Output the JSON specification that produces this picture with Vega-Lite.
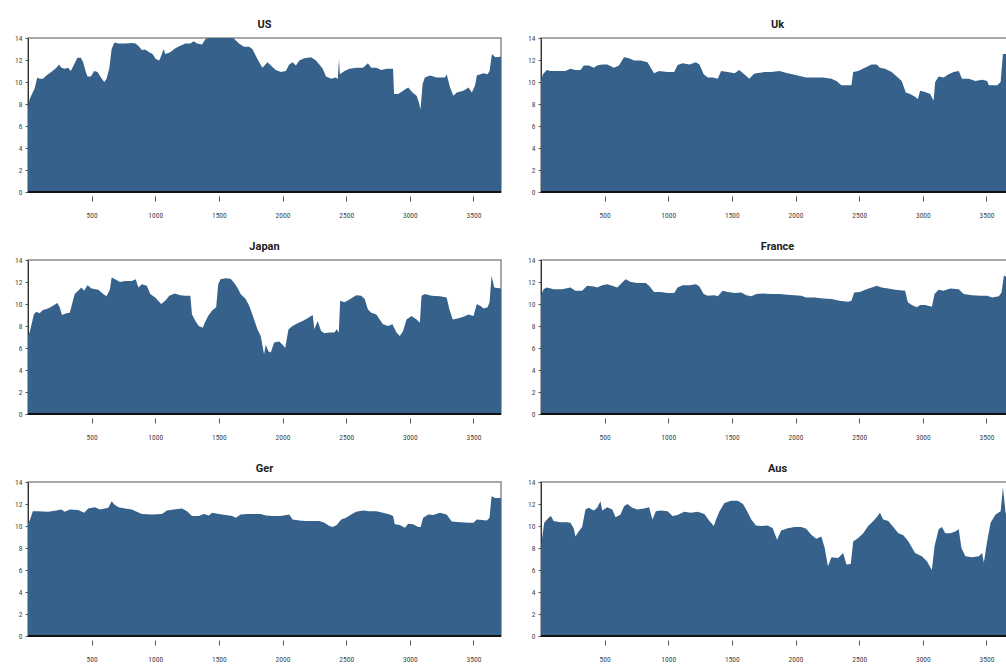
{
"$schema": "https://vega.github.io/schema/vega-lite/v6.json",
"background": "white",
"padding": {"left": 13, "top": 18, "right": 0, "bottom": 0},
"datasets": {
"series": [
{"country":"US","t":1,"value":7.6},{"country":"US","t":13,"value":8.4},{"country":"US","t":26,"value":8.75},{"country":"US","t":53,"value":9.4},{"country":"US","t":74,"value":10.4},{"country":"US","t":92,"value":10.3},{"country":"US","t":118,"value":10.3},{"country":"US","t":145,"value":10.6},{"country":"US","t":184,"value":10.9},{"country":"US","t":224,"value":11.3},{"country":"US","t":245,"value":11.6},{"country":"US","t":263,"value":11.3},{"country":"US","t":289,"value":11.2},{"country":"US","t":316,"value":11.3},{"country":"US","t":337,"value":11.0},{"country":"US","t":363,"value":11.6},{"country":"US","t":389,"value":12.2},{"country":"US","t":416,"value":12.2},{"country":"US","t":434,"value":11.8},{"country":"US","t":453,"value":11.0},{"country":"US","t":468,"value":10.5},{"country":"US","t":495,"value":10.5},{"country":"US","t":521,"value":11.0},{"country":"US","t":547,"value":10.9},{"country":"US","t":574,"value":10.4},{"country":"US","t":600,"value":10.0},{"country":"US","t":618,"value":10.3},{"country":"US","t":639,"value":11.2},{"country":"US","t":658,"value":13.0},{"country":"US","t":679,"value":13.6},{"country":"US","t":711,"value":13.5},{"country":"US","t":763,"value":13.5},{"country":"US","t":816,"value":13.55},{"country":"US","t":847,"value":13.5},{"country":"US","t":874,"value":13.2},{"country":"US","t":895,"value":12.9},{"country":"US","t":921,"value":12.95},{"country":"US","t":953,"value":12.7},{"country":"US","t":979,"value":12.55},{"country":"US","t":1005,"value":12.1},{"country":"US","t":1032,"value":11.95},{"country":"US","t":1053,"value":12.55},{"country":"US","t":1066,"value":13.0},{"country":"US","t":1079,"value":12.55},{"country":"US","t":1118,"value":12.7},{"country":"US","t":1158,"value":13.07},{"country":"US","t":1197,"value":13.3},{"country":"US","t":1237,"value":13.5},{"country":"US","t":1276,"value":13.5},{"country":"US","t":1303,"value":13.7},{"country":"US","t":1329,"value":13.5},{"country":"US","t":1368,"value":13.4},{"country":"US","t":1395,"value":13.9},{"country":"US","t":1434,"value":14.1},{"country":"US","t":1474,"value":14.2},{"country":"US","t":1540,"value":14.2},{"country":"US","t":1605,"value":14.1},{"country":"US","t":1632,"value":13.8},{"country":"US","t":1658,"value":13.5},{"country":"US","t":1697,"value":13.2},{"country":"US","t":1737,"value":13.2},{"country":"US","t":1763,"value":13.0},{"country":"US","t":1803,"value":12.1},{"country":"US","t":1842,"value":11.3},{"country":"US","t":1882,"value":11.8},{"country":"US","t":1908,"value":11.5},{"country":"US","t":1947,"value":11.1},{"country":"US","t":1987,"value":10.9},{"country":"US","t":2026,"value":11.0},{"country":"US","t":2053,"value":11.6},{"country":"US","t":2079,"value":11.8},{"country":"US","t":2105,"value":11.5},{"country":"US","t":2132,"value":11.95},{"country":"US","t":2171,"value":12.15},{"country":"US","t":2224,"value":12.25},{"country":"US","t":2263,"value":11.95},{"country":"US","t":2289,"value":11.6},{"country":"US","t":2316,"value":11.2},{"country":"US","t":2342,"value":10.5},{"country":"US","t":2382,"value":10.3},{"country":"US","t":2416,"value":10.4},{"country":"US","t":2434,"value":10.3},{"country":"US","t":2444,"value":12.1},{"country":"US","t":2450,"value":10.7},{"country":"US","t":2487,"value":11.0},{"country":"US","t":2526,"value":11.2},{"country":"US","t":2579,"value":11.3},{"country":"US","t":2632,"value":11.3},{"country":"US","t":2671,"value":11.7},{"country":"US","t":2697,"value":11.3},{"country":"US","t":2737,"value":11.3},{"country":"US","t":2776,"value":11.1},{"country":"US","t":2816,"value":11.2},{"country":"US","t":2868,"value":11.2},{"country":"US","t":2876,"value":8.9},{"country":"US","t":2908,"value":8.9},{"country":"US","t":2947,"value":9.2},{"country":"US","t":2987,"value":9.5},{"country":"US","t":3021,"value":9.05},{"country":"US","t":3053,"value":8.75},{"country":"US","t":3071,"value":8.15},{"country":"US","t":3084,"value":7.5},{"country":"US","t":3100,"value":9.8},{"country":"US","t":3118,"value":10.4},{"country":"US","t":3158,"value":10.6},{"country":"US","t":3211,"value":10.4},{"country":"US","t":3276,"value":10.4},{"country":"US","t":3289,"value":10.7},{"country":"US","t":3316,"value":9.5},{"country":"US","t":3342,"value":8.75},{"country":"US","t":3368,"value":9.05},{"country":"US","t":3421,"value":9.2},{"country":"US","t":3461,"value":9.5},{"country":"US","t":3487,"value":9.05},{"country":"US","t":3513,"value":9.7},{"country":"US","t":3526,"value":10.6},{"country":"US","t":3579,"value":10.8},{"country":"US","t":3611,"value":10.7},{"country":"US","t":3626,"value":11.0},{"country":"US","t":3645,"value":12.55},{"country":"US","t":3671,"value":12.25},{"country":"US","t":3716,"value":12.3},
{"country":"Uk","t":1,"value":10.1},{"country":"Uk","t":16,"value":10.7},{"country":"Uk","t":47,"value":11.1},{"country":"Uk","t":74,"value":11.0},{"country":"Uk","t":126,"value":11.0},{"country":"Uk","t":192,"value":11.0},{"country":"Uk","t":232,"value":11.2},{"country":"Uk","t":271,"value":11.1},{"country":"Uk","t":311,"value":11.1},{"country":"Uk","t":337,"value":11.5},{"country":"Uk","t":376,"value":11.5},{"country":"Uk","t":416,"value":11.3},{"country":"Uk","t":442,"value":11.5},{"country":"Uk","t":482,"value":11.6},{"country":"Uk","t":521,"value":11.6},{"country":"Uk","t":574,"value":11.3},{"country":"Uk","t":613,"value":11.5},{"country":"Uk","t":653,"value":12.25},{"country":"Uk","t":692,"value":12.15},{"country":"Uk","t":732,"value":11.95},{"country":"Uk","t":784,"value":11.95},{"country":"Uk","t":837,"value":11.8},{"country":"Uk","t":863,"value":11.3},{"country":"Uk","t":889,"value":10.8},{"country":"Uk","t":929,"value":11.0},{"country":"Uk","t":995,"value":10.9},{"country":"Uk","t":1047,"value":10.9},{"country":"Uk","t":1074,"value":11.55},{"country":"Uk","t":1113,"value":11.7},{"country":"Uk","t":1166,"value":11.6},{"country":"Uk","t":1218,"value":11.8},{"country":"Uk","t":1245,"value":11.6},{"country":"Uk","t":1279,"value":10.7},{"country":"Uk","t":1311,"value":10.4},{"country":"Uk","t":1350,"value":10.4},{"country":"Uk","t":1389,"value":10.3},{"country":"Uk","t":1416,"value":11.0},{"country":"Uk","t":1468,"value":10.9},{"country":"Uk","t":1521,"value":10.8},{"country":"Uk","t":1558,"value":11.1},{"country":"Uk","t":1597,"value":10.7},{"country":"Uk","t":1637,"value":10.3},{"country":"Uk","t":1670,"value":10.7},{"country":"Uk","t":1689,"value":10.8},{"country":"Uk","t":1755,"value":10.9},{"country":"Uk","t":1808,"value":10.9},{"country":"Uk","t":1874,"value":11.0},{"country":"Uk","t":1939,"value":10.8},{"country":"Uk","t":2018,"value":10.6},{"country":"Uk","t":2084,"value":10.4},{"country":"Uk","t":2150,"value":10.4},{"country":"Uk","t":2216,"value":10.4},{"country":"Uk","t":2282,"value":10.3},{"country":"Uk","t":2321,"value":10.1},{"country":"Uk","t":2361,"value":9.7},{"country":"Uk","t":2413,"value":9.7},{"country":"Uk","t":2439,"value":9.7},{"country":"Uk","t":2453,"value":10.9},{"country":"Uk","t":2492,"value":11.0},{"country":"Uk","t":2545,"value":11.3},{"country":"Uk","t":2597,"value":11.6},{"country":"Uk","t":2637,"value":11.6},{"country":"Uk","t":2663,"value":11.3},{"country":"Uk","t":2703,"value":11.2},{"country":"Uk","t":2755,"value":10.9},{"country":"Uk","t":2795,"value":10.5},{"country":"Uk","t":2834,"value":10.1},{"country":"Uk","t":2866,"value":9.05},{"country":"Uk","t":2900,"value":8.9},{"country":"Uk","t":2939,"value":8.65},{"country":"Uk","t":2961,"value":8.45},{"country":"Uk","t":2979,"value":9.2},{"country":"Uk","t":3018,"value":9.1},{"country":"Uk","t":3058,"value":8.9},{"country":"Uk","t":3084,"value":8.3},{"country":"Uk","t":3097,"value":10.0},{"country":"Uk","t":3124,"value":10.5},{"country":"Uk","t":3163,"value":10.4},{"country":"Uk","t":3203,"value":10.7},{"country":"Uk","t":3242,"value":10.9},{"country":"Uk","t":3282,"value":11.0},{"country":"Uk","t":3308,"value":10.3},{"country":"Uk","t":3361,"value":10.3},{"country":"Uk","t":3413,"value":10.1},{"country":"Uk","t":3466,"value":10.2},{"country":"Uk","t":3505,"value":10.1},{"country":"Uk","t":3518,"value":9.7},{"country":"Uk","t":3584,"value":9.7},{"country":"Uk","t":3611,"value":10.0},{"country":"Uk","t":3629,"value":12.55},{"country":"Uk","t":3650,"value":12.55},{"country":"Uk","t":3716,"value":12.4},
{"country":"Japan","t":1,"value":7.1},{"country":"Japan","t":13,"value":7.4},{"country":"Japan","t":26,"value":8.0},{"country":"Japan","t":47,"value":9.05},{"country":"Japan","t":66,"value":9.3},{"country":"Japan","t":92,"value":9.15},{"country":"Japan","t":118,"value":9.45},{"country":"Japan","t":158,"value":9.6},{"country":"Japan","t":197,"value":9.85},{"country":"Japan","t":232,"value":10.1},{"country":"Japan","t":250,"value":9.7},{"country":"Japan","t":268,"value":9.0},{"country":"Japan","t":303,"value":9.15},{"country":"Japan","t":329,"value":9.2},{"country":"Japan","t":347,"value":10.0},{"country":"Japan","t":368,"value":10.9},{"country":"Japan","t":395,"value":11.2},{"country":"Japan","t":421,"value":11.5},{"country":"Japan","t":442,"value":11.2},{"country":"Japan","t":468,"value":11.7},{"country":"Japan","t":500,"value":11.4},{"country":"Japan","t":553,"value":11.3},{"country":"Japan","t":592,"value":10.9},{"country":"Japan","t":618,"value":10.7},{"country":"Japan","t":645,"value":11.35},{"country":"Japan","t":658,"value":12.4},{"country":"Japan","t":684,"value":12.25},{"country":"Japan","t":724,"value":12.0},{"country":"Japan","t":763,"value":12.1},{"country":"Japan","t":816,"value":12.1},{"country":"Japan","t":847,"value":12.25},{"country":"Japan","t":868,"value":11.5},{"country":"Japan","t":895,"value":11.8},{"country":"Japan","t":934,"value":11.65},{"country":"Japan","t":961,"value":10.9},{"country":"Japan","t":1000,"value":10.6},{"country":"Japan","t":1047,"value":10.0},{"country":"Japan","t":1079,"value":10.3},{"country":"Japan","t":1111,"value":10.75},{"country":"Japan","t":1153,"value":10.95},{"country":"Japan","t":1197,"value":10.8},{"country":"Japan","t":1237,"value":10.75},{"country":"Japan","t":1276,"value":10.75},{"country":"Japan","t":1289,"value":9.05},{"country":"Japan","t":1316,"value":8.45},{"country":"Japan","t":1342,"value":8.0},{"country":"Japan","t":1374,"value":7.85},{"country":"Japan","t":1389,"value":8.3},{"country":"Japan","t":1416,"value":8.9},{"country":"Japan","t":1447,"value":9.4},{"country":"Japan","t":1479,"value":9.7},{"country":"Japan","t":1495,"value":11.8},{"country":"Japan","t":1513,"value":12.25},{"country":"Japan","t":1553,"value":12.35},{"country":"Japan","t":1592,"value":12.3},{"country":"Japan","t":1618,"value":11.95},{"country":"Japan","t":1645,"value":11.5},{"country":"Japan","t":1671,"value":10.9},{"country":"Japan","t":1711,"value":10.45},{"country":"Japan","t":1740,"value":9.8},{"country":"Japan","t":1763,"value":9.05},{"country":"Japan","t":1803,"value":7.7},{"country":"Japan","t":1829,"value":7.1},{"country":"Japan","t":1855,"value":5.4},{"country":"Japan","t":1868,"value":6.3},{"country":"Japan","t":1889,"value":5.7},{"country":"Japan","t":1908,"value":5.6},{"country":"Japan","t":1934,"value":6.5},{"country":"Japan","t":1974,"value":6.6},{"country":"Japan","t":2000,"value":6.3},{"country":"Japan","t":2021,"value":6.0},{"country":"Japan","t":2047,"value":7.7},{"country":"Japan","t":2079,"value":8.0},{"country":"Japan","t":2118,"value":8.25},{"country":"Japan","t":2158,"value":8.45},{"country":"Japan","t":2197,"value":8.7},{"country":"Japan","t":2237,"value":9.0},{"country":"Japan","t":2250,"value":7.7},{"country":"Japan","t":2276,"value":8.45},{"country":"Japan","t":2303,"value":7.55},{"country":"Japan","t":2329,"value":7.35},{"country":"Japan","t":2368,"value":7.4},{"country":"Japan","t":2408,"value":7.4},{"country":"Japan","t":2426,"value":7.7},{"country":"Japan","t":2442,"value":7.4},{"country":"Japan","t":2453,"value":10.3},{"country":"Japan","t":2487,"value":10.15},{"country":"Japan","t":2526,"value":10.4},{"country":"Japan","t":2579,"value":10.8},{"country":"Japan","t":2618,"value":10.75},{"country":"Japan","t":2645,"value":10.45},{"country":"Japan","t":2671,"value":9.5},{"country":"Japan","t":2697,"value":9.2},{"country":"Japan","t":2737,"value":9.05},{"country":"Japan","t":2763,"value":8.6},{"country":"Japan","t":2789,"value":8.15},{"country":"Japan","t":2829,"value":8.0},{"country":"Japan","t":2863,"value":8.15},{"country":"Japan","t":2895,"value":7.4},{"country":"Japan","t":2921,"value":7.1},{"country":"Japan","t":2947,"value":7.55},{"country":"Japan","t":2974,"value":8.6},{"country":"Japan","t":3013,"value":8.9},{"country":"Japan","t":3053,"value":8.6},{"country":"Japan","t":3079,"value":8.3},{"country":"Japan","t":3092,"value":10.75},{"country":"Japan","t":3118,"value":10.9},{"country":"Japan","t":3171,"value":10.75},{"country":"Japan","t":3237,"value":10.7},{"country":"Japan","t":3289,"value":10.6},{"country":"Japan","t":3311,"value":9.5},{"country":"Japan","t":3337,"value":8.6},{"country":"Japan","t":3382,"value":8.7},{"country":"Japan","t":3421,"value":8.85},{"country":"Japan","t":3461,"value":9.05},{"country":"Japan","t":3500,"value":8.9},{"country":"Japan","t":3526,"value":10.0},{"country":"Japan","t":3558,"value":9.8},{"country":"Japan","t":3579,"value":9.6},{"country":"Japan","t":3611,"value":9.7},{"country":"Japan","t":3626,"value":10.15},{"country":"Japan","t":3642,"value":12.55},{"country":"Japan","t":3663,"value":11.5},{"country":"Japan","t":3716,"value":11.4},
{"country":"France","t":1,"value":10.75},{"country":"France","t":21,"value":11.35},{"country":"France","t":47,"value":11.5},{"country":"France","t":100,"value":11.35},{"country":"France","t":166,"value":11.35},{"country":"France","t":232,"value":11.5},{"country":"France","t":271,"value":11.2},{"country":"France","t":324,"value":11.2},{"country":"France","t":363,"value":11.65},{"country":"France","t":416,"value":11.6},{"country":"France","t":442,"value":11.5},{"country":"France","t":482,"value":11.7},{"country":"France","t":521,"value":11.8},{"country":"France","t":561,"value":11.65},{"country":"France","t":600,"value":11.5},{"country":"France","t":639,"value":11.95},{"country":"France","t":666,"value":12.25},{"country":"France","t":705,"value":12.0},{"country":"France","t":758,"value":11.9},{"country":"France","t":824,"value":11.9},{"country":"France","t":850,"value":11.65},{"country":"France","t":889,"value":11.1},{"country":"France","t":942,"value":11.1},{"country":"France","t":995,"value":11.0},{"country":"France","t":1047,"value":11.0},{"country":"France","t":1074,"value":11.5},{"country":"France","t":1113,"value":11.7},{"country":"France","t":1166,"value":11.7},{"country":"France","t":1218,"value":11.8},{"country":"France","t":1245,"value":11.6},{"country":"France","t":1279,"value":10.9},{"country":"France","t":1311,"value":10.75},{"country":"France","t":1363,"value":10.8},{"country":"France","t":1389,"value":10.7},{"country":"France","t":1429,"value":11.2},{"country":"France","t":1468,"value":11.1},{"country":"France","t":1521,"value":11.0},{"country":"France","t":1574,"value":11.05},{"country":"France","t":1613,"value":10.8},{"country":"France","t":1653,"value":10.7},{"country":"France","t":1692,"value":10.9},{"country":"France","t":1742,"value":10.95},{"country":"France","t":1808,"value":10.9},{"country":"France","t":1874,"value":10.9},{"country":"France","t":1939,"value":10.85},{"country":"France","t":1992,"value":10.8},{"country":"France","t":2045,"value":10.75},{"country":"France","t":2084,"value":10.6},{"country":"France","t":2150,"value":10.6},{"country":"France","t":2216,"value":10.5},{"country":"France","t":2282,"value":10.45},{"country":"France","t":2347,"value":10.3},{"country":"France","t":2413,"value":10.2},{"country":"France","t":2439,"value":10.3},{"country":"France","t":2461,"value":11.05},{"country":"France","t":2505,"value":11.1},{"country":"France","t":2558,"value":11.35},{"country":"France","t":2611,"value":11.55},{"country":"France","t":2637,"value":11.65},{"country":"France","t":2676,"value":11.5},{"country":"France","t":2729,"value":11.4},{"country":"France","t":2782,"value":11.3},{"country":"France","t":2861,"value":11.2},{"country":"France","t":2882,"value":10.15},{"country":"France","t":2913,"value":9.9},{"country":"France","t":2953,"value":9.7},{"country":"France","t":2979,"value":9.9},{"country":"France","t":3018,"value":9.9},{"country":"France","t":3071,"value":9.75},{"country":"France","t":3092,"value":10.9},{"country":"France","t":3124,"value":11.3},{"country":"France","t":3163,"value":11.2},{"country":"France","t":3216,"value":11.4},{"country":"France","t":3282,"value":11.35},{"country":"France","t":3321,"value":10.9},{"country":"France","t":3387,"value":10.8},{"country":"France","t":3453,"value":10.75},{"country":"France","t":3505,"value":10.75},{"country":"France","t":3545,"value":10.6},{"country":"France","t":3597,"value":10.7},{"country":"France","t":3618,"value":11.05},{"country":"France","t":3637,"value":12.6},{"country":"France","t":3671,"value":12.4},{"country":"France","t":3716,"value":12.4},
{"country":"Ger","t":1,"value":10.3},{"country":"Ger","t":13,"value":10.45},{"country":"Ger","t":39,"value":11.35},{"country":"Ger","t":79,"value":11.35},{"country":"Ger","t":158,"value":11.3},{"country":"Ger","t":224,"value":11.4},{"country":"Ger","t":263,"value":11.5},{"country":"Ger","t":289,"value":11.3},{"country":"Ger","t":329,"value":11.5},{"country":"Ger","t":395,"value":11.45},{"country":"Ger","t":442,"value":11.2},{"country":"Ger","t":474,"value":11.6},{"country":"Ger","t":526,"value":11.7},{"country":"Ger","t":566,"value":11.5},{"country":"Ger","t":605,"value":11.6},{"country":"Ger","t":632,"value":11.65},{"country":"Ger","t":658,"value":12.25},{"country":"Ger","t":679,"value":11.95},{"country":"Ger","t":711,"value":11.7},{"country":"Ger","t":763,"value":11.6},{"country":"Ger","t":816,"value":11.5},{"country":"Ger","t":855,"value":11.3},{"country":"Ger","t":895,"value":11.1},{"country":"Ger","t":974,"value":11.05},{"country":"Ger","t":1053,"value":11.1},{"country":"Ger","t":1092,"value":11.4},{"country":"Ger","t":1145,"value":11.5},{"country":"Ger","t":1211,"value":11.6},{"country":"Ger","t":1250,"value":11.35},{"country":"Ger","t":1289,"value":10.9},{"country":"Ger","t":1342,"value":10.9},{"country":"Ger","t":1382,"value":11.1},{"country":"Ger","t":1421,"value":10.95},{"country":"Ger","t":1447,"value":11.2},{"country":"Ger","t":1500,"value":11.1},{"country":"Ger","t":1553,"value":11.0},{"country":"Ger","t":1605,"value":10.9},{"country":"Ger","t":1632,"value":10.75},{"country":"Ger","t":1671,"value":11.05},{"country":"Ger","t":1724,"value":11.1},{"country":"Ger","t":1789,"value":11.1},{"country":"Ger","t":1829,"value":11.1},{"country":"Ger","t":1868,"value":10.95},{"country":"Ger","t":1921,"value":10.9},{"country":"Ger","t":1987,"value":10.9},{"country":"Ger","t":2053,"value":11.05},{"country":"Ger","t":2079,"value":10.6},{"country":"Ger","t":2132,"value":10.5},{"country":"Ger","t":2184,"value":10.45},{"country":"Ger","t":2237,"value":10.45},{"country":"Ger","t":2289,"value":10.45},{"country":"Ger","t":2329,"value":10.3},{"country":"Ger","t":2368,"value":10.0},{"country":"Ger","t":2395,"value":9.9},{"country":"Ger","t":2426,"value":10.1},{"country":"Ger","t":2461,"value":10.6},{"country":"Ger","t":2500,"value":10.75},{"country":"Ger","t":2539,"value":11.05},{"country":"Ger","t":2579,"value":11.3},{"country":"Ger","t":2632,"value":11.4},{"country":"Ger","t":2684,"value":11.35},{"country":"Ger","t":2737,"value":11.35},{"country":"Ger","t":2789,"value":11.2},{"country":"Ger","t":2842,"value":11.05},{"country":"Ger","t":2868,"value":10.9},{"country":"Ger","t":2882,"value":10.15},{"country":"Ger","t":2921,"value":10.1},{"country":"Ger","t":2961,"value":9.85},{"country":"Ger","t":2987,"value":10.2},{"country":"Ger","t":3026,"value":10.15},{"country":"Ger","t":3066,"value":9.9},{"country":"Ger","t":3084,"value":9.9},{"country":"Ger","t":3105,"value":10.75},{"country":"Ger","t":3145,"value":11.05},{"country":"Ger","t":3184,"value":11.0},{"country":"Ger","t":3237,"value":11.2},{"country":"Ger","t":3289,"value":11.05},{"country":"Ger","t":3329,"value":10.4},{"country":"Ger","t":3395,"value":10.35},{"country":"Ger","t":3461,"value":10.3},{"country":"Ger","t":3500,"value":10.3},{"country":"Ger","t":3526,"value":10.6},{"country":"Ger","t":3605,"value":10.5},{"country":"Ger","t":3626,"value":10.75},{"country":"Ger","t":3642,"value":12.7},{"country":"Ger","t":3671,"value":12.55},{"country":"Ger","t":3716,"value":12.55},
{"country":"Aus","t":1,"value":8.0},{"country":"Aus","t":8,"value":8.75},{"country":"Aus","t":26,"value":10.3},{"country":"Aus","t":61,"value":10.75},{"country":"Aus","t":79,"value":10.9},{"country":"Aus","t":100,"value":10.45},{"country":"Aus","t":153,"value":10.35},{"country":"Aus","t":205,"value":10.35},{"country":"Aus","t":232,"value":10.3},{"country":"Aus","t":258,"value":9.8},{"country":"Aus","t":271,"value":9.05},{"country":"Aus","t":297,"value":9.5},{"country":"Aus","t":324,"value":9.9},{"country":"Aus","t":350,"value":11.5},{"country":"Aus","t":376,"value":11.65},{"country":"Aus","t":416,"value":11.4},{"country":"Aus","t":442,"value":11.65},{"country":"Aus","t":468,"value":12.25},{"country":"Aus","t":482,"value":11.4},{"country":"Aus","t":521,"value":11.7},{"country":"Aus","t":561,"value":11.5},{"country":"Aus","t":587,"value":10.8},{"country":"Aus","t":626,"value":11.05},{"country":"Aus","t":653,"value":11.8},{"country":"Aus","t":679,"value":12.0},{"country":"Aus","t":718,"value":11.65},{"country":"Aus","t":758,"value":11.5},{"country":"Aus","t":811,"value":11.6},{"country":"Aus","t":850,"value":11.7},{"country":"Aus","t":876,"value":10.6},{"country":"Aus","t":903,"value":11.35},{"country":"Aus","t":942,"value":11.4},{"country":"Aus","t":995,"value":11.35},{"country":"Aus","t":1034,"value":10.9},{"country":"Aus","t":1074,"value":11.0},{"country":"Aus","t":1126,"value":11.3},{"country":"Aus","t":1179,"value":11.2},{"country":"Aus","t":1232,"value":11.3},{"country":"Aus","t":1284,"value":11.1},{"country":"Aus","t":1324,"value":10.45},{"country":"Aus","t":1358,"value":10.0},{"country":"Aus","t":1376,"value":10.6},{"country":"Aus","t":1403,"value":11.35},{"country":"Aus","t":1442,"value":12.1},{"country":"Aus","t":1495,"value":12.3},{"country":"Aus","t":1547,"value":12.3},{"country":"Aus","t":1587,"value":12.0},{"country":"Aus","t":1613,"value":11.5},{"country":"Aus","t":1653,"value":10.6},{"country":"Aus","t":1689,"value":10.05},{"country":"Aus","t":1729,"value":10.0},{"country":"Aus","t":1782,"value":10.05},{"country":"Aus","t":1821,"value":9.8},{"country":"Aus","t":1855,"value":8.75},{"country":"Aus","t":1887,"value":9.6},{"country":"Aus","t":1939,"value":9.8},{"country":"Aus","t":1992,"value":9.9},{"country":"Aus","t":2045,"value":9.9},{"country":"Aus","t":2084,"value":9.75},{"country":"Aus","t":2124,"value":9.2},{"country":"Aus","t":2163,"value":8.85},{"country":"Aus","t":2203,"value":9.05},{"country":"Aus","t":2229,"value":8.0},{"country":"Aus","t":2255,"value":6.35},{"country":"Aus","t":2282,"value":7.15},{"country":"Aus","t":2334,"value":7.1},{"country":"Aus","t":2374,"value":7.55},{"country":"Aus","t":2400,"value":6.5},{"country":"Aus","t":2434,"value":6.55},{"country":"Aus","t":2453,"value":8.6},{"country":"Aus","t":2492,"value":8.9},{"country":"Aus","t":2532,"value":9.35},{"country":"Aus","t":2571,"value":10.0},{"country":"Aus","t":2611,"value":10.45},{"country":"Aus","t":2645,"value":10.9},{"country":"Aus","t":2663,"value":11.2},{"country":"Aus","t":2689,"value":10.6},{"country":"Aus","t":2729,"value":10.45},{"country":"Aus","t":2768,"value":9.9},{"country":"Aus","t":2808,"value":9.35},{"country":"Aus","t":2847,"value":9.15},{"country":"Aus","t":2887,"value":8.6},{"country":"Aus","t":2939,"value":7.55},{"country":"Aus","t":2992,"value":7.25},{"country":"Aus","t":3032,"value":6.8},{"country":"Aus","t":3071,"value":6.0},{"country":"Aus","t":3092,"value":8.15},{"country":"Aus","t":3124,"value":9.7},{"country":"Aus","t":3150,"value":9.9},{"country":"Aus","t":3176,"value":9.35},{"country":"Aus","t":3216,"value":9.35},{"country":"Aus","t":3255,"value":9.5},{"country":"Aus","t":3282,"value":9.7},{"country":"Aus","t":3303,"value":8.0},{"country":"Aus","t":3334,"value":7.25},{"country":"Aus","t":3387,"value":7.15},{"country":"Aus","t":3439,"value":7.25},{"country":"Aus","t":3466,"value":7.55},{"country":"Aus","t":3479,"value":6.65},{"country":"Aus","t":3505,"value":8.6},{"country":"Aus","t":3532,"value":10.3},{"country":"Aus","t":3571,"value":11.05},{"country":"Aus","t":3611,"value":11.35},{"country":"Aus","t":3629,"value":13.5},{"country":"Aus","t":3650,"value":11.2},{"country":"Aus","t":3671,"value":10.45},{"country":"Aus","t":3716,"value":10.5}
]
},
"data": {"name": "series"},
"facet": {
  "field": "country", "type": "nominal",
  "sort": ["US", "Uk", "Japan", "France", "Ger", "Aus"],
  "header": {"title": null, "labelFont": "Roboto, sans-serif", "labelFontWeight": "bold", "labelFontSize": 11, "labelColor": "#222", "labelPadding": 4}
},
"columns": 2,
"spacing": {"row": 20, "column": 23},
"resolve": {"axis": {"x": "independent", "y": "independent"}},
"spec": {
  "width": 473,
  "height": 154,
  "layer": [
    {
      "mark": {"type": "area", "color": "#35618a", "clip": true, "interpolate": "linear"},
      "encoding": {
        "x": {"field": "t", "type": "quantitative", "scale": {"domain": [1, 3716], "nice": false, "zero": false},
              "axis": {"title": null, "values": [500, 1000, 1500, 2000, 2500, 3000, 3500], "format": "d", "labelOverlap": false, "offset": 4, "domain": false, "tickSize": 5, "tickColor": "#555", "labelPadding": 10, "labelFontSize": 7.5, "labelColor": "#444", "grid": false, "labelFont": "Roboto Condensed, Roboto, sans-serif"}},
        "y": {"field": "value", "type": "quantitative", "scale": {"domain": [0, 14], "nice": false},
              "axis": {"title": null, "values": [0, 2, 4, 6, 8, 10, 12, 14], "format": "d", "labelOverlap": false, "domain": true, "domainColor": "#333", "tickSize": 3, "tickColor": "#555", "labelPadding": 3, "labelFontSize": 7.5, "labelColor": "#444", "grid": false, "labelFont": "Roboto Condensed, Roboto, sans-serif"}}
      }
    },
    {
      "transform": [{"aggregate": [{"op": "count", "as": "n"}]}],
      "mark": {"type": "rule", "color": "#111", "strokeWidth": 2},
      "encoding": {"y": {"datum": 0, "type": "quantitative",
              "axis": {"title": null, "values": [0, 2, 4, 6, 8, 10, 12, 14], "format": "d", "labelOverlap": false, "domain": true, "domainColor": "#333", "tickSize": 3, "tickColor": "#555", "labelPadding": 3, "labelFontSize": 7.5, "labelColor": "#444", "grid": false, "labelFont": "Roboto Condensed, Roboto, sans-serif"}}}
    }
  ]
},
"config": {
  "view": {"stroke": "#8a8a8a", "strokeWidth": 1.5},
  "font": "Roboto, sans-serif"
}
}
